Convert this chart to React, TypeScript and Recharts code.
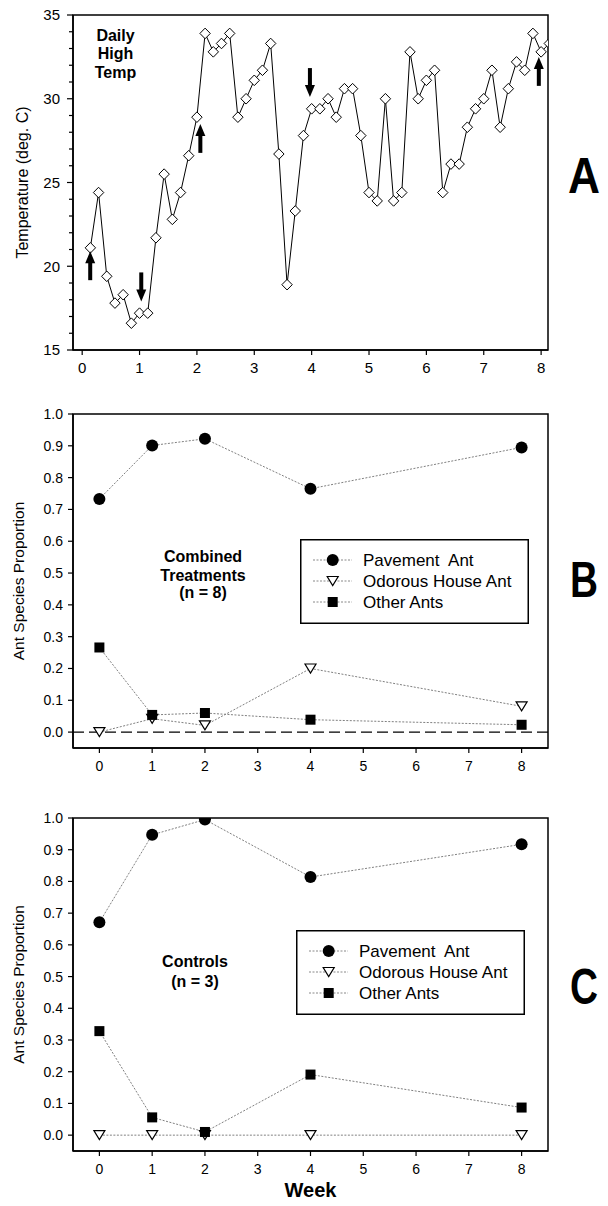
import React from 'react';
import { ComposedChart, Line, Scatter, XAxis, YAxis, ReferenceArea, ReferenceLine, Legend } from 'recharts';

const FONT = 'Arial, "Liberation Sans", Helvetica, sans-serif';

// ---- panel A: daily high temperature (one value per day, day 1 = first point)
const dailyHighs = [
  21.1, 24.4, 19.4, 17.8, 18.3, 16.6, 17.2, 17.2, 21.7, 25.5,
  22.8, 24.4, 26.6, 28.9, 33.9, 32.8, 33.3, 33.9, 28.9, 30.0,
  31.1, 31.7, 33.3, 26.7, 18.9, 23.3, 27.8, 29.4, 29.4, 30.0,
  28.9, 30.6, 30.6, 27.8, 24.4, 23.9, 30.0, 23.9, 24.4, 32.8,
  30.0, 31.1, 31.7, 24.4, 26.1, 26.1, 28.3, 29.4, 30.0, 31.7,
  28.3, 30.6, 32.2, 31.7, 33.9, 32.8, 33.3,
];
const tempTicks = [15, 16, 17, 18, 19, 20, 21, 22, 23, 24, 25, 26, 27, 28, 29, 30, 31, 32, 33, 34, 35];
const tempDomain = [15, 35];
const tempWeekDomain = [-0.16, 8.12];

// treatment arrows
const arrowWeeks = [0.14, 1.03, 2.06, 3.97, 7.96];
const arrowTips = [20.9, 17.9, 28.5, 30.1, 32.5];
const arrowDirs = ['up', 'down', 'up', 'down', 'up'];

// ---- panels B and C: ant species proportions
const weeks = [0, 1, 2, 4, 8];
const weekTicks = [0, 1, 2, 3, 4, 5, 6, 7, 8];
const propTicks = [0, 0.1, 0.2, 0.3, 0.4, 0.5, 0.6, 0.7, 0.8, 0.9, 1.0];
const propDomain = [-0.05, 1.0];
const propWeekDomain = [-0.5, 8.5];

const combPavement = [0.733, 0.901, 0.922, 0.765, 0.895];
const combOdorous = [0.0, 0.042, 0.021, 0.2, 0.081];
const combOther = [0.266, 0.054, 0.06, 0.039, 0.023];

const ctrlPavement = [0.671, 0.947, 0.995, 0.814, 0.917];
const ctrlOdorous = [0, 0, 0, 0, 0];
const ctrlOther = [0.328, 0.056, 0.01, 0.191, 0.087];

const seriesKeys = ['pavement', 'odorous', 'other'];
const seriesNames: Record<string, string> = { pavement: 'Pavement  Ant', odorous: 'Odorous House Ant', other: 'Other Ants' };

const tempData = dailyHighs.map((t, i) => ({ week: (i + 1) / 7, temp: t }));
const arrowData = arrowWeeks.map((w, i) => ({ week: w, temp: arrowTips[i], dir: arrowDirs[i] }));

const makeRows = (pav: number[], odo: number[], oth: number[]) =>
  weeks.map((w, i) => ({ week: w, pavement: pav[i], odorous: odo[i], other: oth[i] }));

const combData = makeRows(combPavement, combOdorous, combOther);
const ctrlData = makeRows(ctrlPavement, ctrlOdorous, ctrlOther);

const kindOf: Record<string, string> = { pavement: 'circle', odorous: 'triangle', other: 'square' };

const Marker = ({ kind, cx, cy }: { kind: string; cx: number; cy: number }) => {
  if (kind === 'circle') return <circle cx={cx} cy={cy} r={6} fill="#000" />;
  if (kind === 'square') return <rect x={cx - 5} y={cy - 5} width={10} height={10} fill="#000" />;
  return (
    <polygon
      points={`${cx - 5.5},${cy - 4.5} ${cx + 5.5},${cy - 4.5} ${cx},${cy + 4.5}`}
      fill="#fff"
      stroke="#000"
      strokeWidth={1.2}
    />
  );
};

const Diamond = ({ cx, cy }: { cx: number; cy: number }) => (
  <polygon
    points={`${cx},${cy - 5.3} ${cx + 5.2},${cy} ${cx},${cy + 5.3} ${cx - 5.2},${cy}`}
    fill="#fff"
    stroke="#000"
    strokeWidth={1}
  />
);

const Arrow = (props: any) => {
  const { cx, cy, payload } = props;
  const s = payload.dir === 'up' ? 1 : -1;
  const head = 12;
  const len = 29;
  return (
    <g>
      <polygon points={`${cx},${cy} ${cx - 5},${cy + s * head} ${cx + 5},${cy + s * head}`} fill="#000" />
      <rect x={cx - 2} y={s > 0 ? cy + head - 1 : cy - len} width={4} height={len - head + 1} fill="#000" />
    </g>
  );
};

const TempTick = (props: any) => {
  const { x, y, payload } = props;
  const major = payload.value % 5 === 0;
  return (
    <g>
      <line x1={x} x2={x - (major ? 6 : 4)} y1={y} y2={y} stroke="#000" strokeWidth={1.2} />
      {major && (
        <text x={x - 13} y={y} dy="0.36em" textAnchor="end" fontSize={15} fontFamily={FONT} fill="#000">
          {payload.value}
        </text>
      )}
    </g>
  );
};

const legendRows = [21, 42, 63];

const LegendBox = ({ payload, w, h }: any) => {
  const items = [...(payload || [])].sort(
    (a: any, b: any) => seriesKeys.indexOf(a.dataKey) - seriesKeys.indexOf(b.dataKey)
  );
  return (
    <svg width={w} height={h} style={{ display: 'block' }}>
      <rect x={0.75} y={0.75} width={w - 1.5} height={h - 1.5} fill="#fff" stroke="#000" strokeWidth={1.5} />
      {items.map((e: any, i: number) => {
        const cy = legendRows[i];
        return (
          <g key={e.dataKey}>
            <line x1={13} x2={52} y1={cy} y2={cy} stroke="#888" strokeDasharray="2 1.5" />
            <Marker kind={kindOf[e.dataKey]} cx={32.7} cy={cy} />
            <text x={63} y={cy} dy="0.36em" fontSize={17} fontFamily={FONT} fill="#000" style={{ whiteSpace: 'pre' }}>
              {e.value}
            </text>
          </g>
        );
      })}
    </svg>
  );
};

const axisStyle = { stroke: '#000', strokeWidth: 1.5 };

const ProportionPanel = ({ data, top, height, marginTop, marginBottom, legendLeft, legendTop, zeroLine, weekLabel }: any) => (
  <div style={{ position: 'absolute', left: 0, top }}>
    <ComposedChart width={608} height={height} data={data} margin={{ top: marginTop, right: 60, bottom: marginBottom, left: 13 }}>
      <XAxis
        type="number"
        dataKey="week"
        domain={propWeekDomain}
        ticks={weekTicks}
        interval={0}
        allowDataOverflow
        height={30}
        tickSize={5}
        tickMargin={8}
        axisLine={axisStyle}
        tickLine={{ stroke: '#000', strokeWidth: 1.2 }}
        tick={{ fontSize: 14, fontFamily: FONT, fill: '#000' }}
        label={weekLabel ? { value: 'Week', position: 'bottom', offset: 2, style: { fontSize: 20, fontWeight: 'bold', fontFamily: FONT, fill: '#000' } } : undefined}
      />
      <YAxis
        type="number"
        domain={propDomain}
        ticks={propTicks}
        interval={0}
        allowDataOverflow
        width={60}
        tickSize={5}
        tickMargin={5}
        tickFormatter={(v: number) => v.toFixed(1)}
        axisLine={axisStyle}
        tickLine={{ stroke: '#000', strokeWidth: 1.2 }}
        tick={{ fontSize: 14, fontFamily: FONT, fill: '#000' }}
        label={{ value: 'Ant Species Proportion', angle: -90, position: 'insideLeft', offset: 5.5, style: { textAnchor: 'middle', fontSize: 15.5, fontFamily: FONT, fill: '#000' } }}
      />
      <ReferenceArea x1={propWeekDomain[0]} x2={propWeekDomain[1]} y1={propDomain[0]} y2={propDomain[1]} fill="none" stroke="#000" strokeWidth={1.5} />
      {zeroLine && <ReferenceLine y={0} stroke="#000" strokeWidth={1.3} strokeDasharray="11 5" />}
      <Legend
        layout="vertical"
        align="center"
        verticalAlign="middle"
        wrapperStyle={{ left: legendLeft, top: legendTop, width: 229, height: 85 }}
        content={(p: any) => <LegendBox payload={p.payload} w={229} h={85} />}
      />
      {seriesKeys.map((key) => (
        <Line
          key={key}
          type="linear"
          dataKey={key}
          name={seriesNames[key]}
          stroke="#808080"
          strokeWidth={1}
          strokeDasharray="2 1.5"
          isAnimationActive={false}
          activeDot={false}
          dot={(p: any) => <Marker key={`${key}-${p.index}`} kind={kindOf[key]} cx={p.cx} cy={p.cy} />}
        />
      ))}
    </ComposedChart>
  </div>
);

export default function App() {
  return (
    <div style={{ position: 'absolute', left: 0, top: 0, width: 608, height: 1206, background: '#fff' }}>
      <div style={{ position: 'absolute', left: 0, top: 0 }}>
        <ComposedChart width={608} height={380} data={tempData} margin={{ top: 15, right: 60, bottom: 0, left: 13 }}>
          <XAxis
            type="number"
            dataKey="week"
            domain={tempWeekDomain}
            ticks={weekTicks}
            interval={0}
            allowDataOverflow
            height={30}
            tickSize={5}
            tickMargin={7}
            axisLine={axisStyle}
            tickLine={{ stroke: '#000', strokeWidth: 1.2 }}
            tick={{ fontSize: 15, fontFamily: FONT, fill: '#000' }}
          />
          <YAxis
            type="number"
            domain={tempDomain}
            ticks={tempTicks}
            interval={0}
            allowDataOverflow
            width={60}
            tickSize={0}
            tickMargin={0}
            tickLine={false}
            axisLine={axisStyle}
            tick={<TempTick />}
            label={{ value: 'Temperature (deg. C)', angle: -90, position: 'insideLeft', offset: 9, style: { textAnchor: 'middle', fontSize: 16, fontFamily: FONT, fill: '#000' } }}
          />
          <ReferenceArea x1={tempWeekDomain[0]} x2={tempWeekDomain[1]} y1={tempDomain[0]} y2={tempDomain[1]} fill="none" stroke="#000" strokeWidth={1.5} />
          <Line
            type="linear"
            dataKey="temp"
            stroke="#000"
            strokeWidth={1}
            isAnimationActive={false}
            activeDot={false}
            dot={(p: any) => <Diamond key={`t-${p.index}`} cx={p.cx} cy={p.cy} />}
          />
          <Scatter data={arrowData} dataKey="temp" isAnimationActive={false} shape={(p: any) => <Arrow {...p} />} />
        </ComposedChart>
      </div>

      <ProportionPanel data={combData} top={395} height={395} marginTop={19} marginBottom={12} legendLeft={300} legendTop={144} zeroLine weekLabel={false} />
      <ProportionPanel data={ctrlData} top={800} height={406} marginTop={18} marginBottom={25} legendLeft={296} legendTop={130} zeroLine={false} weekLabel />

      <svg width={608} height={1206} style={{ position: 'absolute', left: 0, top: 0, pointerEvents: 'none' }} fontFamily={FONT}>
        <g fontSize={16} fontWeight="bold" textAnchor="middle" fill="#000">
          <text x={115.5} y={41}>Daily</text>
          <text x={115.5} y={59}>High</text>
          <text x={115.5} y={77.5}>Temp</text>
          <text x={203} y={562}>Combined</text>
          <text x={203} y={581}>Treatments</text>
          <text x={203} y={598}>(n = 8)</text>
          <text x={195} y={967}>Controls</text>
          <text x={195} y={987}>(n = 3)</text>
        </g>
        <g fontSize={50} fontWeight="bold" fill="#000">
          <text x={568} y={193} textLength={32} lengthAdjust="spacingAndGlyphs">A</text>
          <text x={570} y={597} textLength={28} lengthAdjust="spacingAndGlyphs">B</text>
          <text x={570} y={1004} textLength={28} lengthAdjust="spacingAndGlyphs">C</text>
        </g>
      </svg>
    </div>
  );
}
